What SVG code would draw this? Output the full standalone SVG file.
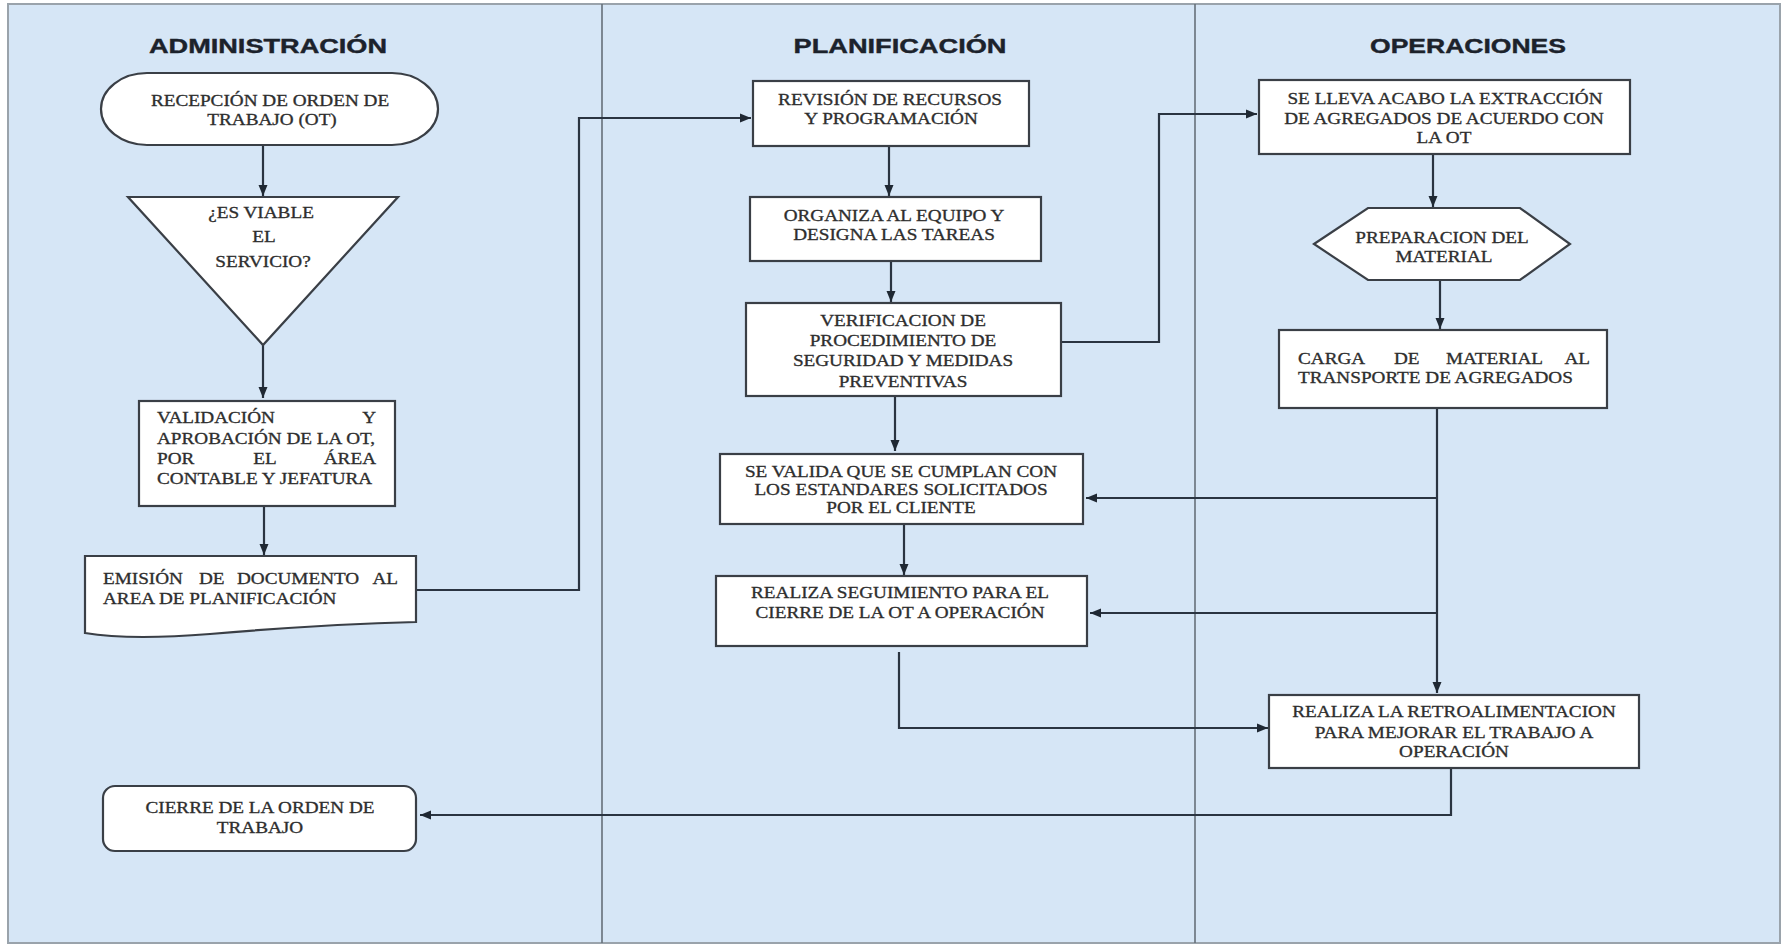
<svg xmlns="http://www.w3.org/2000/svg" width="1782" height="944" viewBox="0 0 1782 944">
  <style>
    .lane-bg { fill: #d6e6f6; stroke: #9aa3ab; stroke-width: 2; }
    .lane-sep { stroke: #66707a; stroke-width: 1.6; }
    .node { fill: #ffffff; stroke: #3a3f46; stroke-width: 2.2; }
    .edge { fill: none; stroke: #2a3441; stroke-width: 2.2; }
    .arrow { marker-end: url(#head); }
    .h { font-family: "Liberation Sans", Arial, sans-serif; font-weight: bold; font-size: 20px; fill: #1c222b; stroke: #1c222b; stroke-width: 0.4; text-anchor: middle; }
    .t { font-family: "Liberation Serif", "Times New Roman", serif; font-size: 16px; fill: #2e2e2e; stroke: #2e2e2e; stroke-width: 0.3; }
    .m { text-anchor: middle; }
    .e { text-anchor: end; }
  </style>
  <defs>
    <marker id="head" markerUnits="userSpaceOnUse" markerWidth="12" markerHeight="12" viewBox="0 0 12 12" refX="11" refY="6" orient="auto">
      <path d="M0,1.5 L11,6 L0,10.5 Z" fill="#1f2833"/>
    </marker>
  </defs>

  <rect x="0" y="0" width="1782" height="944" fill="#ffffff"/>

  <!-- swimlanes -->
  <g id="lanes">
    <rect class="lane-bg" x="8" y="4" width="1772" height="939"/>
    <line class="lane-sep" x1="602" y1="4" x2="602" y2="943"/>
    <line class="lane-sep" x1="1195" y1="4" x2="1195" y2="943"/>
    <text class="h" x="268" y="53" textLength="238" lengthAdjust="spacingAndGlyphs">ADMINISTRACIÓN</text>
    <text class="h" x="900" y="53" textLength="213" lengthAdjust="spacingAndGlyphs">PLANIFICACIÓN</text>
    <text class="h" x="1468" y="53" textLength="196" lengthAdjust="spacingAndGlyphs">OPERACIONES</text>
  </g>

  <!-- connectors -->
  <g id="connectors">
    <path class="edge arrow" d="M263,145 V196"/>
    <path class="edge arrow" d="M263,345 V398"/>
    <path class="edge arrow" d="M264,506 V555"/>
    <path class="edge arrow" d="M417,590 H579 V118 H751"/>
    <path class="edge arrow" d="M889,146 V196"/>
    <path class="edge arrow" d="M891,261 V302"/>
    <path class="edge arrow" d="M1061,342 H1159 V114 H1257"/>
    <path class="edge arrow" d="M895,396 V451"/>
    <path class="edge arrow" d="M904,524 V575"/>
    <path class="edge arrow" d="M899,652 V728 H1268"/>
    <path class="edge arrow" d="M1433,154 V207"/>
    <path class="edge arrow" d="M1440,280 V329"/>
    <path class="edge arrow" d="M1437,408 V693"/>
    <path class="edge arrow" d="M1437,498 H1086"/>
    <path class="edge arrow" d="M1437,613 H1090"/>
    <path class="edge arrow" d="M1451,768 V815 H420"/>
  </g>

  <!-- ADMINISTRACIÓN -->
  <g id="recepcion-ot">
    <rect class="node" x="101" y="73" width="337" height="72" rx="46" ry="36"/>
    <text class="t m" transform="translate(270 106) scale(1.2 1)">RECEPCIÓN DE ORDEN DE</text>
    <text class="t m" transform="translate(272 125) scale(1.2 1)">TRABAJO (OT)</text>
  </g>

  <g id="es-viable">
    <polygon class="node" points="128,197 398,197 263,345"/>
    <text class="t m" transform="translate(261 218) scale(1.2 1)">¿ES VIABLE</text>
    <text class="t m" transform="translate(264 242) scale(1.2 1)">EL</text>
    <text class="t m" transform="translate(263 267) scale(1.2 1)">SERVICIO?</text>
  </g>

  <g id="validacion">
    <rect class="node" x="139" y="401" width="256" height="105"/>
    <text class="t" transform="translate(157 423) scale(1.2 1)">VALIDACIÓN</text>
    <text class="t e" transform="translate(376 423) scale(1.2 1)">Y</text>
    <text class="t" transform="translate(157 444) scale(1.2 1)">APROBACIÓN DE LA OT,</text>
    <text class="t" transform="translate(157 464) scale(1.2 1)">POR</text>
    <text class="t m" transform="translate(265 464) scale(1.2 1)">EL</text>
    <text class="t e" transform="translate(376 464) scale(1.2 1)">ÁREA</text>
    <text class="t" transform="translate(157 484) scale(1.2 1)">CONTABLE Y JEFATURA</text>
  </g>

  <g id="emision-documento">
    <path class="node" d="M85,556 H416 V622 C340,624 280,628 210,634 C160,638 115,638 85,633 Z"/>
    <text class="t" transform="translate(103 584) scale(1.2 1)">EMISIÓN</text>
    <text class="t" transform="translate(199 584) scale(1.2 1)">DE</text>
    <text class="t" transform="translate(237 584) scale(1.2 1)">DOCUMENTO</text>
    <text class="t e" transform="translate(398 584) scale(1.2 1)">AL</text>
    <text class="t" transform="translate(103 604) scale(1.2 1)">AREA DE PLANIFICACIÓN</text>
  </g>

  <g id="cierre-ot">
    <rect class="node" x="103" y="786" width="313" height="65" rx="12" ry="12"/>
    <text class="t m" transform="translate(260 813) scale(1.2 1)">CIERRE DE LA ORDEN DE</text>
    <text class="t m" transform="translate(260 833) scale(1.2 1)">TRABAJO</text>
  </g>

  <!-- PLANIFICACIÓN -->
  <g id="revision-recursos">
    <rect class="node" x="753" y="81" width="276" height="65"/>
    <text class="t m" transform="translate(890 105) scale(1.2 1)">REVISIÓN DE RECURSOS</text>
    <text class="t m" transform="translate(891 124) scale(1.2 1)">Y PROGRAMACIÓN</text>
  </g>

  <g id="organiza-equipo">
    <rect class="node" x="750" y="197" width="291" height="64"/>
    <text class="t m" transform="translate(894 221) scale(1.2 1)">ORGANIZA AL EQUIPO Y</text>
    <text class="t m" transform="translate(894 240) scale(1.2 1)">DESIGNA LAS TAREAS</text>
  </g>

  <g id="verificacion">
    <rect class="node" x="746" y="303" width="315" height="93"/>
    <text class="t m" transform="translate(903 326) scale(1.2 1)">VERIFICACION DE</text>
    <text class="t m" transform="translate(903 346) scale(1.2 1)">PROCEDIMIENTO DE</text>
    <text class="t m" transform="translate(903 366) scale(1.2 1)">SEGURIDAD Y MEDIDAS</text>
    <text class="t m" transform="translate(903 387) scale(1.2 1)">PREVENTIVAS</text>
  </g>

  <g id="valida-estandares">
    <rect class="node" x="720" y="454" width="363" height="70"/>
    <text class="t m" transform="translate(901 477) scale(1.2 1)">SE VALIDA QUE SE CUMPLAN CON</text>
    <text class="t m" transform="translate(901 495) scale(1.2 1)">LOS ESTANDARES SOLICITADOS</text>
    <text class="t m" transform="translate(901 513) scale(1.2 1)">POR EL CLIENTE</text>
  </g>

  <g id="seguimiento-cierre">
    <rect class="node" x="716" y="576" width="371" height="70"/>
    <text class="t m" transform="translate(900 598) scale(1.2 1)">REALIZA SEGUIMIENTO PARA EL</text>
    <text class="t m" transform="translate(900 618) scale(1.2 1)">CIERRE DE LA OT A OPERACIÓN</text>
  </g>

  <!-- OPERACIONES -->
  <g id="extraccion">
    <rect class="node" x="1259" y="80" width="371" height="74"/>
    <text class="t m" transform="translate(1445 104) scale(1.2 1)">SE LLEVA ACABO LA EXTRACCIÓN</text>
    <text class="t m" transform="translate(1444 124) scale(1.2 1)">DE AGREGADOS DE ACUERDO CON</text>
    <text class="t m" transform="translate(1444 143) scale(1.2 1)">LA OT</text>
  </g>

  <g id="preparacion">
    <polygon class="node" points="1314,244 1368,208 1520,208 1570,244 1520,280 1368,280"/>
    <text class="t m" transform="translate(1442 243) scale(1.2 1)">PREPARACION DEL</text>
    <text class="t m" transform="translate(1444 262) scale(1.2 1)">MATERIAL</text>
  </g>

  <g id="carga-material">
    <rect class="node" x="1279" y="330" width="328" height="78"/>
    <text class="t" transform="translate(1298 364) scale(1.2 1)">CARGA</text>
    <text class="t" transform="translate(1394 364) scale(1.2 1)">DE</text>
    <text class="t" transform="translate(1446 364) scale(1.2 1)">MATERIAL</text>
    <text class="t e" transform="translate(1590 364) scale(1.2 1)">AL</text>
    <text class="t" transform="translate(1298 383) scale(1.2 1)">TRANSPORTE DE AGREGADOS</text>
  </g>

  <g id="retroalimentacion">
    <rect class="node" x="1269" y="695" width="370" height="73"/>
    <text class="t m" transform="translate(1454 717) scale(1.2 1)">REALIZA LA RETROALIMENTACION</text>
    <text class="t m" transform="translate(1454 738) scale(1.2 1)">PARA MEJORAR EL TRABAJO A</text>
    <text class="t m" transform="translate(1454 757) scale(1.2 1)">OPERACIÓN</text>
  </g>
</svg>
